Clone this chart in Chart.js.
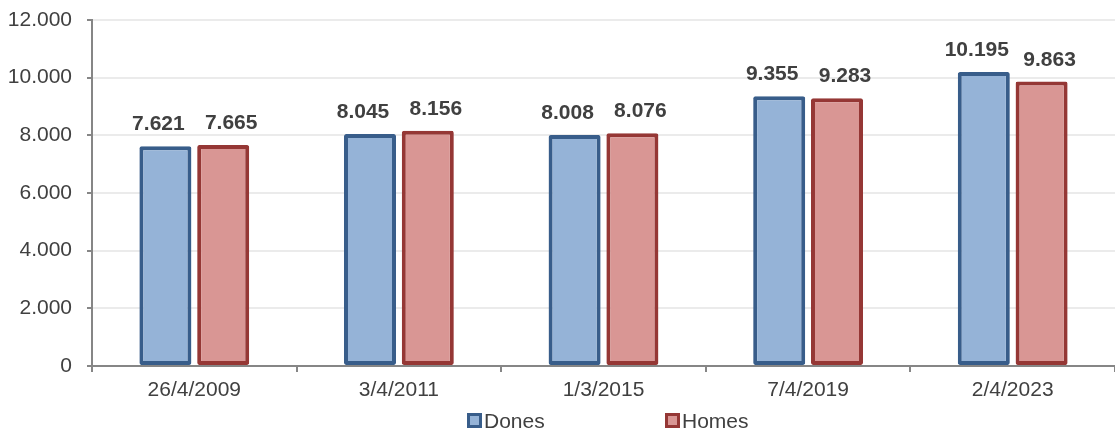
<!DOCTYPE html>
<html lang="ca">
<head>
    <meta charset="UTF-8">
    <title>Dones i Homes</title>
    <script src="https://cdn.jsdelivr.net/npm/chart.js"></script>
    <style>
        html, body { margin: 0; padding: 0; background: #fff; }
        #wrap { width: 1115px; height: 436px; position: relative; }
    </style>
</head>
<body>
    <div id="wrap"><canvas id="chart" width="1115" height="436"></canvas></div>

    <script>
        const categories = ['26/4/2009', '3/4/2011', '1/3/2015', '7/4/2019', '2/4/2023'];
        const dones = [7621, 8045, 8008, 9355, 10195];
        const homes = [7665, 8156, 8076, 9283, 9863];
        const seriesNames = ['Dones', 'Homes'];

        const FONT = "'Liberation Sans', Arial, sans-serif";
        const TEXT = '#404040';
        const AXIS = '#868686';

        const fill = ['#95b3d7', '#d99694'];
        const edge = ['#385d8a', '#953735'];
        const labelShift = [-7, 8]; // labels pushed apart a little, like the original

        function fmt(v) {
            return String(Math.round(v)).replace(/\B(?=(\d{3})+(?!\d))/g, '.');
        }

        // value labels above bars
        const valueLabels = {
            id: 'valueLabels',
            afterDatasetsDraw(chart) {
                const ctx = chart.ctx;
                ctx.save();
                ctx.font = 'bold 21px ' + FONT;
                ctx.fillStyle = TEXT;
                ctx.textAlign = 'center';
                ctx.textBaseline = 'alphabetic';
                chart.data.datasets.forEach((ds, i) => {
                    chart.getDatasetMeta(i).data.forEach((bar, j) => {
                        ctx.fillText(fmt(ds.data[j]), bar.x + labelShift[i], bar.y - 16);
                    });
                });
                ctx.restore();
            }
        };

        // legend drawn at the bottom, wide spacing like the original
        const bottomLegend = {
            id: 'bottomLegend',
            afterDraw(chart) {
                const ctx = chart.ctx;
                ctx.save();
                ctx.font = '21px ' + FONT;
                ctx.textBaseline = 'middle';
                let x = 467;
                const y = 421;
                seriesNames.forEach((name, i) => {
                    ctx.fillStyle = edge[i];
                    ctx.fillRect(x, y - 8, 15, 15);
                    ctx.fillStyle = fill[i];
                    ctx.fillRect(x + 3, y - 5, 9, 9);
                    ctx.fillStyle = TEXT;
                    ctx.fillText(name, x + 17, y + 1);
                    x += 198;
                });
                ctx.restore();
            }
        };

        new Chart(document.getElementById('chart'), {
            type: 'bar',
            data: {
                labels: categories,
                datasets: [
                    { label: seriesNames[0], data: dones, backgroundColor: fill[0], borderColor: edge[0] },
                    { label: seriesNames[1], data: homes, backgroundColor: fill[1], borderColor: edge[1] }
                ]
            },
            options: {
                responsive: false,
                animation: false,
                layout: { padding: { top: 20, right: -2, left: 0, bottom: 0 } },
                datasets: {
                    bar: {
                        borderWidth: 4,
                        borderRadius: 2,
                        borderSkipped: false,
                        categoryPercentage: 0.565,
                        barPercentage: 0.9
                    }
                },
                plugins: {
                    legend: { display: false },
                    tooltip: { enabled: false }
                },
                scales: {
                    x: {
                        afterFit(scale) {
                            scale.height = 70;
                            scale.paddingLeft = 0;
                            scale.paddingRight = 0;
                        },
                        grid: {
                            drawOnChartArea: false,
                            drawTicks: true,
                            tickLength: 6,
                            color: AXIS,
                            lineWidth: 2
                        },
                        border: { color: AXIS, width: 2 },
                        ticks: { color: TEXT, font: { family: FONT, size: 21 }, padding: 6 }
                    },
                    y: {
                        min: 0,
                        max: 12000,
                        afterFit(scale) {
                            scale.width = 92;
                            scale.paddingTop = 0;
                            scale.paddingBottom = 0;
                        },
                        grid: {
                            color: '#ebebeb',
                            tickColor: AXIS,
                            lineWidth: 2,
                            tickLength: 5
                        },
                        border: { color: AXIS, width: 2 },
                        ticks: {
                            stepSize: 2000,
                            color: TEXT,
                            padding: 15,
                            font: { family: FONT, size: 21 },
                            callback: (v) => fmt(v)
                        }
                    }
                }
            },
            plugins: [valueLabels, bottomLegend]
        });
    </script>
</body>
</html>
